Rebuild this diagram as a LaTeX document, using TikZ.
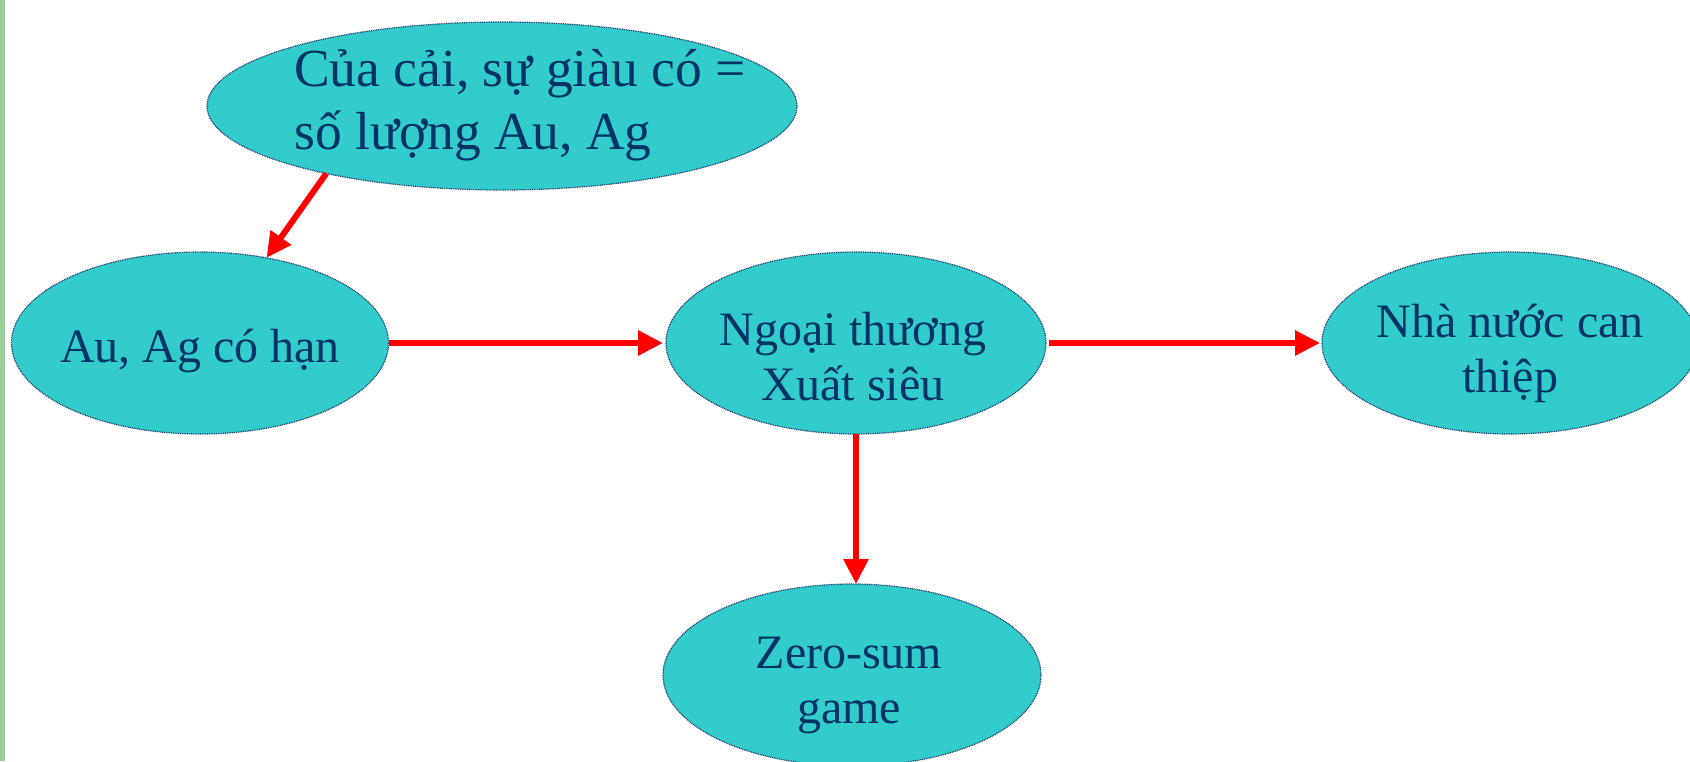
\documentclass[tikz,border=0pt]{standalone}
\usepackage{fontspec}
\setmainfont{Liberation Serif}
\usetikzlibrary{shapes.geometric,arrows.meta}
\definecolor{fillc}{RGB}{51,204,204}
\definecolor{textc}{RGB}{0,51,102}
\definecolor{edgec}{RGB}{31,63,111}
\definecolor{greenbar}{RGB}{153,204,153}
\begin{document}
\begin{tikzpicture}[x=1pt,y=-1pt,
  bubble/.style={ellipse, fill=fillc, draw=edgec, line width=1.2pt, dash pattern=on 1pt off 0.8pt, inner sep=0pt, outer sep=0pt},
  lbl/.style={text=textc, inner sep=0pt, font=\fontsize{48}{55}\selectfont},
  arr/.style={draw=red, line width=6pt, -{Triangle[length=25pt,width=24pt]}}]
\useasboundingbox (0,0) rectangle (1690,761);
\clip (0,0) rectangle (1690,761);
\fill[greenbar] (0,0) rectangle (5,761);
\node[bubble, minimum width=590pt, minimum height=168pt] (wealth) at (502,106) {};
\node[bubble, minimum width=377pt, minimum height=182pt] (limited) at (200,343) {};
\node[bubble, minimum width=380pt, minimum height=182pt] (trade) at (856,343) {};
\node[bubble, minimum width=376pt, minimum height=182pt] (state) at (1510,343) {};
\node[bubble, minimum width=378pt, minimum height=182pt] (zero) at (852,675) {};
\node[lbl, anchor=base west] (wealthT) at (294,86) {\parbox[t]{500pt}{\raggedright\fontsize{53.5}{63}\selectfont Của cải, sự giàu có =\\ số lượng Au, Ag}};
\node[lbl, anchor=base] (limitedT) at (200,362) {Au, Ag có hạn};
\node[lbl, anchor=base] (tradeT) at (853,345) {\parbox[t]{360pt}{\centering Ngoại thương\\ Xuất siêu}};
\node[lbl, anchor=base] (stateT) at (1510,337) {\parbox[t]{360pt}{\centering Nhà nước can\\ thiệp}};
\node[lbl, anchor=base] (zeroT) at (849,668) {\parbox[t]{360pt}{\centering Zero-sum\\ game}};
\draw[arr] (wealth.201) -- (limited.52);
\draw[arr, shorten >=3pt] (limited.east) -- (trade.west);
\draw[arr, shorten <=3pt, shorten >=2pt] (trade.east) -- (state.west);
\draw[arr] (trade.south) -- (trade.south |- zero.north);
\end{tikzpicture}
\end{document}
